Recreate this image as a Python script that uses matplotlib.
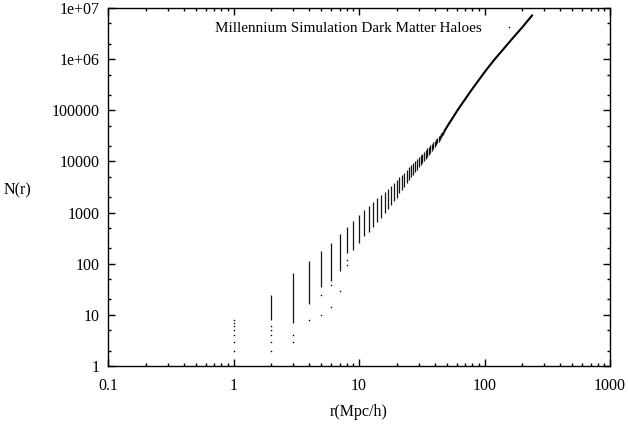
import numpy as np
import matplotlib
matplotlib.use("Agg")
import matplotlib.pyplot as plt
from matplotlib.ticker import LogLocator, FuncFormatter, NullFormatter

# dense vertical columns: integer separation r and the span of N(r) seen there
col_r = list(range(2, 49))
col_lo = [8, 7, 16, 35, 45, 72, 160, 186, 250, 350, 425, 530, 667, 776, 973,
          1165, 1415, 1690, 1970, 2400, 2780, 3230, 3760, 4360, 5060, 5500,
          6200, 6900, 7700, 8550, 9400, 10300, 11300, 12400, 13500, 14700,
          16000, 17400, 19000, 20700, 22500, 24400, 26500, 28700, 31000,
          33600, 36500]
col_hi = [24, 65, 115, 175, 250, 380, 520, 690, 900, 1130, 1370, 1640, 1950,
          2250, 2580, 2950, 3380, 3850, 4350, 4900, 5450, 6050, 6800, 7700,
          8500, 9200, 10100, 11000, 12000, 13100, 14200, 15400, 16600, 17900,
          19300, 20800, 22300, 23900, 25600, 27400, 29300, 31300, 33300,
          35500, 37800, 40200, 42700]

# single haloes visible as separate dots
dot_r = [1, 1, 1, 1, 1, 1, 1, 2, 2, 2, 2, 2, 3, 3, 4, 5, 5, 6, 6, 7, 8, 8]
dot_n = [2, 3, 4, 5, 6, 7, 8, 2, 3, 4, 5, 6, 3, 4, 8, 10, 25, 14, 38, 29, 95, 118]

# large r: all haloes collapse onto one curve
line_r = [48, 50, 53, 56.6, 60.6, 65, 76.9, 90, 104.5, 120, 141.7, 165, 200, 240]
line_n = [39500, 46500, 58500, 75000, 98000, 126000, 229000, 390000, 640000,
          980000, 1.58e6, 2.45e6, 4.2e6, 7.2e6]

plt.rcParams['font.family'] = ['Liberation Serif', 'DejaVu Serif']
plt.rcParams['font.size'] = 11.5

fig = plt.figure(figsize=(6.28, 4.32), dpi=100)
ax = fig.add_axes([108 / 628, 66 / 432, 502 / 628, 358 / 432])

ax.vlines(col_r, col_lo, col_hi, colors='#151515', lw=0.9)
ax.plot(line_r, line_n, color='black', lw=1.5, solid_capstyle='round')
dots, = ax.plot(dot_r, dot_n, ls='none', marker='s', ms=1.0, mew=0,
                color='black', label='Millennium Simulation Dark Matter Haloes')

ax.set_xscale('log')
ax.set_yscale('log')
ax.set_xlim(0.1, 1000)
ax.set_ylim(1, 1e7)

fmt = FuncFormatter(lambda v, p: '%g' % v)
ax.xaxis.set_major_locator(LogLocator(base=10, numticks=10))
ax.xaxis.set_minor_locator(LogLocator(base=10, subs=np.arange(2, 10), numticks=20))
ax.yaxis.set_major_locator(LogLocator(base=10, numticks=10))
ax.yaxis.set_minor_locator(LogLocator(base=10, subs=(2, 5), numticks=20))
ax.xaxis.set_major_formatter(fmt)
ax.yaxis.set_major_formatter(fmt)
ax.xaxis.set_minor_formatter(NullFormatter())
ax.yaxis.set_minor_formatter(NullFormatter())
ax.tick_params(which='both', direction='in', top=True, right=True, width=1.0)
ax.tick_params(which='major', length=5)
ax.tick_params(axis='x', which='major', pad=9)
ax.tick_params(axis='y', which='major', pad=6)
ax.tick_params(which='minor', length=2.5)
for s in ax.spines.values():
    s.set_linewidth(1.0)

ax.set_xlabel('r(Mpc/h)', labelpad=7)
ax.set_ylabel('N(r)', rotation=0, va='center', ha='center')
ax.yaxis.set_label_coords(-0.18, 0.49)

ax.legend(handles=[dots], loc='upper right', bbox_to_anchor=(0.828, 0.962),
          frameon=False, markerfirst=False, borderpad=0, borderaxespad=0,
          handlelength=2.0, handletextpad=0.8, fontsize=10.9)

fig.savefig('out.png', dpi=100)
